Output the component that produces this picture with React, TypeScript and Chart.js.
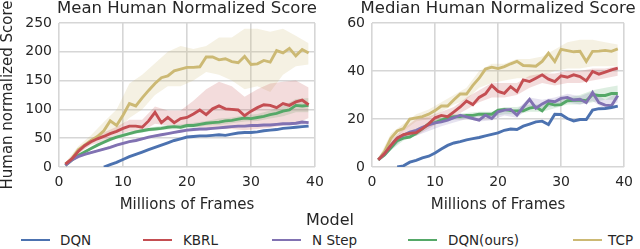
import React, { useEffect, useRef } from "react";
import { Chart, registerables } from "chart.js";

Chart.register(...registerables);

// ---------- data ----------
const FRAMES = [1, 2, 3, 4, 5, 6, 7, 8, 9, 10, 11, 12, 13, 14, 15, 16, 17, 18, 19, 20, 21, 22, 23, 24, 25, 26, 27, 28, 29, 30, 31, 32, 33, 34, 35, 36, 37, 38, 39];
const BAND_FRAMES = [1, 3, 5, 7, 9, 11, 13, 15, 17, 19, 21, 23, 25, 27, 29, 31, 33, 35, 37, 39];

const SERIES_NAMES = ["DQN", "KBRL", "N Step", "DQN(ours)", "TCP"];
const SERIES_COLORS = ["#4C72B0", "#C44E52", "#8172B2", "#55A868", "#CCB974"];

// Mean human normalized score
const MEAN_DQN = [null, null, null, null, null, null, 0, 4, 8, 13, 18, 22, 26, 30, 34, 38, 42, 46, 49, 52, 53, 54, 54, 55, 56, 55, 57, 59, 60, 60, 61, 63, 64, 65, 67, 68, 69, 70, 71];
const MEAN_KBRL = [5, 14, 27, 37, 44, 49, 53, 58, 62, 67, 71, 71, 69, 80, 95, 77, 86, 77, 84, 86, 92, 99, 91, 101, 106, 101, 100, 99, 89, 97, 103, 108, 107, 103, 110, 107, 113, 116, 108];
const MEAN_NSTEP = [3, 12, 18, 22, 25, 28, 31, 34, 38, 41, 44, 46, 49, 52, 54, 56, 58, 60, 62, 64, 65, 66, 66, 67, 68, 69, 70, 71, 71, 72, 72, 73, 73, 74, 75, 75, 76, 78, 77];
const MEAN_OURS = [3, 12, 20, 26, 32, 38, 43, 48, 52, 55, 58, 61, 63, 65, 66, 67, 69, 70, 69, 72, 72, 74, 76, 77, 78, 80, 81, 83, 85, 84, 86, 88, 91, 93, 97, 99, 107, 106, 107];
const MEAN_TCP = [5, 14, 30, 38, 46, 53, 63, 80, 72, 90, 110, 106, 120, 133, 145, 155, 158, 167, 170, 173, 173, 174, 191, 191, 186, 188, 183, 181, 192, 178, 179, 185, 182, 202, 198, 206, 193, 204, 198];

const MEAN_KBRL_LO = [3, 23, 38, 45, 55, 62, 62, 75, 72, 72, 70, 68, 66, 66, 64, 66, 68, 72, 75, 85];
const MEAN_KBRL_HI = [7, 31, 49, 60, 70, 82, 82, 105, 98, 98, 115, 135, 148, 140, 122, 135, 145, 148, 150, 138];
const MEAN_NSTEP_LO = [2, 16, 23, 29, 36, 42, 47, 52, 56, 60, 62, 64, 66, 68, 69, 70, 71, 72, 73, 74];
const MEAN_NSTEP_HI = [4, 20, 27, 33, 40, 46, 51, 56, 60, 64, 66, 68, 70, 72, 73, 74, 75, 76, 78, 79];
const MEAN_OURS_LO = [2, 18, 30, 40, 49, 55, 60, 63, 65, 66, 68, 72, 73, 76, 79, 80, 84, 88, 95, 95];
const MEAN_OURS_HI = [4, 22, 34, 46, 55, 61, 66, 70, 73, 74, 77, 80, 84, 86, 90, 92, 98, 106, 118, 120];
const MEAN_TCP_LO = [3, 24, 40, 52, 62, 85, 100, 125, 140, 140, 150, 165, 160, 150, 135, 140, 130, 160, 175, 178];
const MEAN_TCP_HI = [8, 36, 55, 78, 100, 145, 160, 180, 200, 210, 205, 210, 225, 225, 240, 240, 235, 240, 228, 215];

// Median human normalized score
const MEDIAN_DQN = [null, null, null, 0, 0.5, 2, 2.8, 3.8, 4.5, 5.8, 7.5, 9, 10, 10.6, 11.3, 11.8, 12.3, 13, 13.6, 14.2, 15.3, 15.8, 15.6, 17, 17.9, 18.8, 19.1, 17.7, 22, 21.9, 20.2, 19.2, 19.8, 19.8, 23.7, 24.3, 24.4, 24.8, 25.4];
const MEDIAN_KBRL = [3, 5.6, 9, 12, 13.5, 14, 14.3, 16, 18, 20.5, 21.5, 21, 23, 25, 27.5, 26, 29, 30.5, 34, 31.5, 30.7, 33.5, 31.4, 36.3, 35.6, 37, 38.4, 36.6, 35.6, 38, 37.4, 38.4, 37.7, 35.9, 39.8, 38.7, 39.5, 40.5, 41.2];
const MEDIAN_NSTEP = [3, 5.5, 9, 12, 13.3, 14.5, 15.3, 16.5, 17.5, 18.4, 18.8, 19.5, 20.6, 21.6, 20.9, 20.2, 19.5, 21.6, 20.2, 23, 23.7, 24, 21.6, 25, 28.2, 24.5, 26.3, 27.6, 27.2, 28.6, 29, 27.9, 28.2, 26.8, 31, 26.8, 25.8, 25.5, 29.8];
const MEDIAN_OURS = [3, 5, 8, 11, 12, 12.5, 14, 16, 18, 18.5, 19.5, 20.5, 21, 21, 21.5, 21.5, 22, 22, 22, 23.7, 24, 23.5, 23.4, 23.4, 24.5, 25, 23.4, 26.5, 25.8, 26, 27.6, 27.8, 27.9, 27.6, 30.2, 29.8, 29.8, 30.6, 30.6];
const MEDIAN_TCP = [3, 6.5, 12, 15, 16, 20, 20.5, 21, 22, 23.5, 25.4, 25.4, 28, 30.4, 30.4, 34, 37, 40.8, 41.6, 41, 41.8, 43, 44, 42.3, 42.2, 42, 44, 47.4, 43.9, 49, 48.5, 48, 48.2, 44, 48.2, 48.3, 48.6, 48.2, 49.2];

const MEDIAN_KBRL_LO = [2.5, 8, 12, 13, 16, 19, 21, 24, 27, 29, 29, 30, 33, 35, 34, 35, 35, 36, 37, 38];
const MEDIAN_KBRL_HI = [3.5, 11, 16, 20, 21, 23, 25, 29, 32, 35, 35, 35, 38, 39, 39, 40, 40, 41, 41, 42];
const MEDIAN_NSTEP_LO = [2.5, 7, 12, 13, 15, 17, 18.5, 20, 19, 19.5, 21.5, 20.5, 25, 24.5, 25.5, 27, 26, 27.5, 24, 27];
const MEDIAN_NSTEP_HI = [3.5, 9, 14, 15, 17, 19, 20.5, 22, 21.5, 22, 24, 24, 29, 28, 29, 30.5, 29.5, 31.5, 28, 31];
const MEDIAN_OURS_LO = [2.5, 7, 11, 13, 17, 19, 20, 20.5, 21, 21, 22, 22, 23, 23, 24.5, 26, 26, 27, 28, 28];
const MEDIAN_OURS_HI = [3.5, 9, 13, 15, 19, 21, 22, 22.5, 23, 23, 25, 25, 26, 26, 27.5, 29, 30, 32, 33, 34];
const MEDIAN_TCP_LO = [2.5, 10, 15, 19, 20, 23, 26, 28, 33, 35, 36, 37, 37, 38, 40, 41, 41, 42, 42, 42];
const MEDIAN_TCP_HI = [3.5, 14, 18, 22, 24, 27, 30, 33, 40, 43, 43, 45, 45, 46, 49, 52, 53, 53, 52, 51];

const MEAN_Y_MAX = 250;
const MEAN_Y_STEP = 50;
const MEDIAN_Y_MAX = 60;
const MEDIAN_Y_STEP = 20;
const X_MAX = 40;
const X_STEP = 10;

// ---------- styling ----------
const FONT = "'DejaVu Sans', 'Noto Sans', sans-serif";
const TEXT = "#262626";
const GRID = "#d6d6d6";

function hexToRgba(hex: string, a: number) {
  const n = parseInt(hex.slice(1), 16);
  return `rgba(${(n >> 16) & 255}, ${(n >> 8) & 255}, ${n & 255}, ${a})`;
}

function pts(xs: number[], ys: (number | null)[]) {
  return xs.map((x, i) => ({ x, y: ys[i] }));
}

type Band = { idx: number; lo: number[]; hi: number[] };

function buildDatasets(lines: (number | null)[][], bands: Band[]) {
  const ds: any[] = [];
  lines.forEach((arr, i) => {
    ds.push({
      label: SERIES_NAMES[i],
      data: pts(FRAMES, arr),
      borderColor: SERIES_COLORS[i],
      backgroundColor: SERIES_COLORS[i],
      borderWidth: 2.9,
      pointRadius: 0,
      fill: false,
      tension: 0,
      order: 0,
    });
  });
  bands.forEach((b) => {
    ds.push({
      label: SERIES_NAMES[b.idx] + " lo",
      data: pts(BAND_FRAMES, b.lo),
      borderColor: "transparent",
      borderWidth: 0,
      pointRadius: 0,
      fill: false,
      tension: 0,
      order: 5,
    });
    ds.push({
      label: SERIES_NAMES[b.idx] + " hi",
      data: pts(BAND_FRAMES, b.hi),
      borderColor: "transparent",
      borderWidth: 0,
      pointRadius: 0,
      backgroundColor: hexToRgba(SERIES_COLORS[b.idx], 0.2),
      fill: "-1",
      tension: 0,
      order: 5,
    });
  });
  return ds;
}

// Title centred over the plot area (not squeezed to its width)
const plotTitle = {
  id: "plotTitle",
  afterDraw(chart: any, _args: any, opts: any) {
    const { ctx, chartArea } = chart;
    ctx.save();
    ctx.font = `16.5px ${FONT}`;
    ctx.fillStyle = TEXT;
    ctx.textAlign = "center";
    ctx.textBaseline = "middle";
    ctx.fillText(opts.text, (chartArea.left + chartArea.right) / 2, 8.5);
    ctx.restore();
  },
};

function makeOptions(title: string, yMax: number, yStep: number, yWidth: number, yTitle: string | null, rightPad: number) {
  return {
    responsive: false,
    animation: false as const,
    devicePixelRatio: 1,
    layout: { padding: { left: 0, right: rightPad, top: 23, bottom: 0 } },
    plugins: {
      legend: { display: false },
      tooltip: { enabled: false },
      title: { display: false },
      plotTitle: { text: title },
    },
    scales: {
      x: {
        type: "linear" as const,
        min: 0,
        max: X_MAX,
        ticks: { stepSize: X_STEP, color: TEXT, font: { family: FONT, size: 14 }, padding: 7, maxRotation: 0 },
        grid: { color: GRID, lineWidth: 1.6, drawTicks: false },
        border: { display: false },
        title: {
          display: true,
          text: "Millions of Frames",
          color: TEXT,
          font: { family: FONT, size: 15, lineHeight: 1 },
          padding: { top: 0, bottom: 2.5 },
        },
        afterFit: (s: any) => {
          s.height = 48;
        },
      },
      y: {
        type: "linear" as const,
        min: 0,
        max: yMax,
        ticks: { stepSize: yStep, color: TEXT, font: { family: FONT, size: 14 }, padding: 7 },
        grid: { color: GRID, lineWidth: 1.6, drawTicks: false },
        border: { display: false },
        title: {
          display: !!yTitle,
          text: yTitle || "",
          color: TEXT,
          font: { family: FONT, size: 15, lineHeight: 1 },
          padding: { top: 0.3, bottom: 0 },
        },
        afterFit: (s: any) => {
          s.width = yWidth;
        },
      },
    },
  };
}

const LEGEND_LINE_LEFT = [21, 143, 272, 408, 573];
const LEGEND_TEXT_LEFT = [60, 183, 312, 448, 608];

export default function App() {
  const leftRef = useRef<HTMLCanvasElement>(null);
  const rightRef = useRef<HTMLCanvasElement>(null);

  useEffect(() => {
    Chart.defaults.font.family = FONT;
    const left = new Chart(leftRef.current!, {
      type: "line",
      data: {
        datasets: buildDatasets(
          [MEAN_DQN, MEAN_KBRL, MEAN_NSTEP, MEAN_OURS, MEAN_TCP],
          [
            { idx: 1, lo: MEAN_KBRL_LO, hi: MEAN_KBRL_HI },
            { idx: 2, lo: MEAN_NSTEP_LO, hi: MEAN_NSTEP_HI },
            { idx: 3, lo: MEAN_OURS_LO, hi: MEAN_OURS_HI },
            { idx: 4, lo: MEAN_TCP_LO, hi: MEAN_TCP_HI },
          ]
        ),
      },
      options: makeOptions("Mean Human Normalized Score", MEAN_Y_MAX, MEAN_Y_STEP, 59, "Human normalized Score", 20) as any,
      plugins: [plotTitle],
    });
    const right = new Chart(rightRef.current!, {
      type: "line",
      data: {
        datasets: buildDatasets(
          [MEDIAN_DQN, MEDIAN_KBRL, MEDIAN_NSTEP, MEDIAN_OURS, MEDIAN_TCP],
          [
            { idx: 1, lo: MEDIAN_KBRL_LO, hi: MEDIAN_KBRL_HI },
            { idx: 2, lo: MEDIAN_NSTEP_LO, hi: MEDIAN_NSTEP_HI },
            { idx: 3, lo: MEDIAN_OURS_LO, hi: MEDIAN_OURS_HI },
            { idx: 4, lo: MEDIAN_TCP_LO, hi: MEDIAN_TCP_HI },
          ]
        ),
      },
      options: makeOptions("Median Human Normalized Score", MEDIAN_Y_MAX, MEDIAN_Y_STEP, 52, null, 10) as any,
      plugins: [plotTitle],
    });
    return () => {
      left.destroy();
      right.destroy();
    };
  }, []);

  return (
    <div style={{ position: "absolute", left: 0, top: 0, width: 640, height: 249, overflow: "hidden", background: "#fff", fontFamily: FONT, color: TEXT }}>
      <canvas ref={leftRef} width={335} height={215} style={{ position: "absolute", left: 0, top: 0, width: 335, height: 215 }} />
      <canvas ref={rightRef} width={320} height={215} style={{ position: "absolute", left: 320, top: 0, width: 320, height: 215 }} />
      <div style={{ position: "absolute", left: 280, top: 211, width: 100, textAlign: "center", fontSize: 16, lineHeight: "18px" }}>Model</div>
      {SERIES_NAMES.map((name, i) => (
        <React.Fragment key={name}>
          <div style={{ position: "absolute", left: LEGEND_LINE_LEFT[i], top: 238.5, width: 29, height: 2, background: SERIES_COLORS[i] }} />
          <div style={{ position: "absolute", left: LEGEND_TEXT_LEFT[i], top: 231.5, fontSize: 13.5, lineHeight: "17px", whiteSpace: "nowrap" }}>{name}</div>
        </React.Fragment>
      ))}
    </div>
  );
}
